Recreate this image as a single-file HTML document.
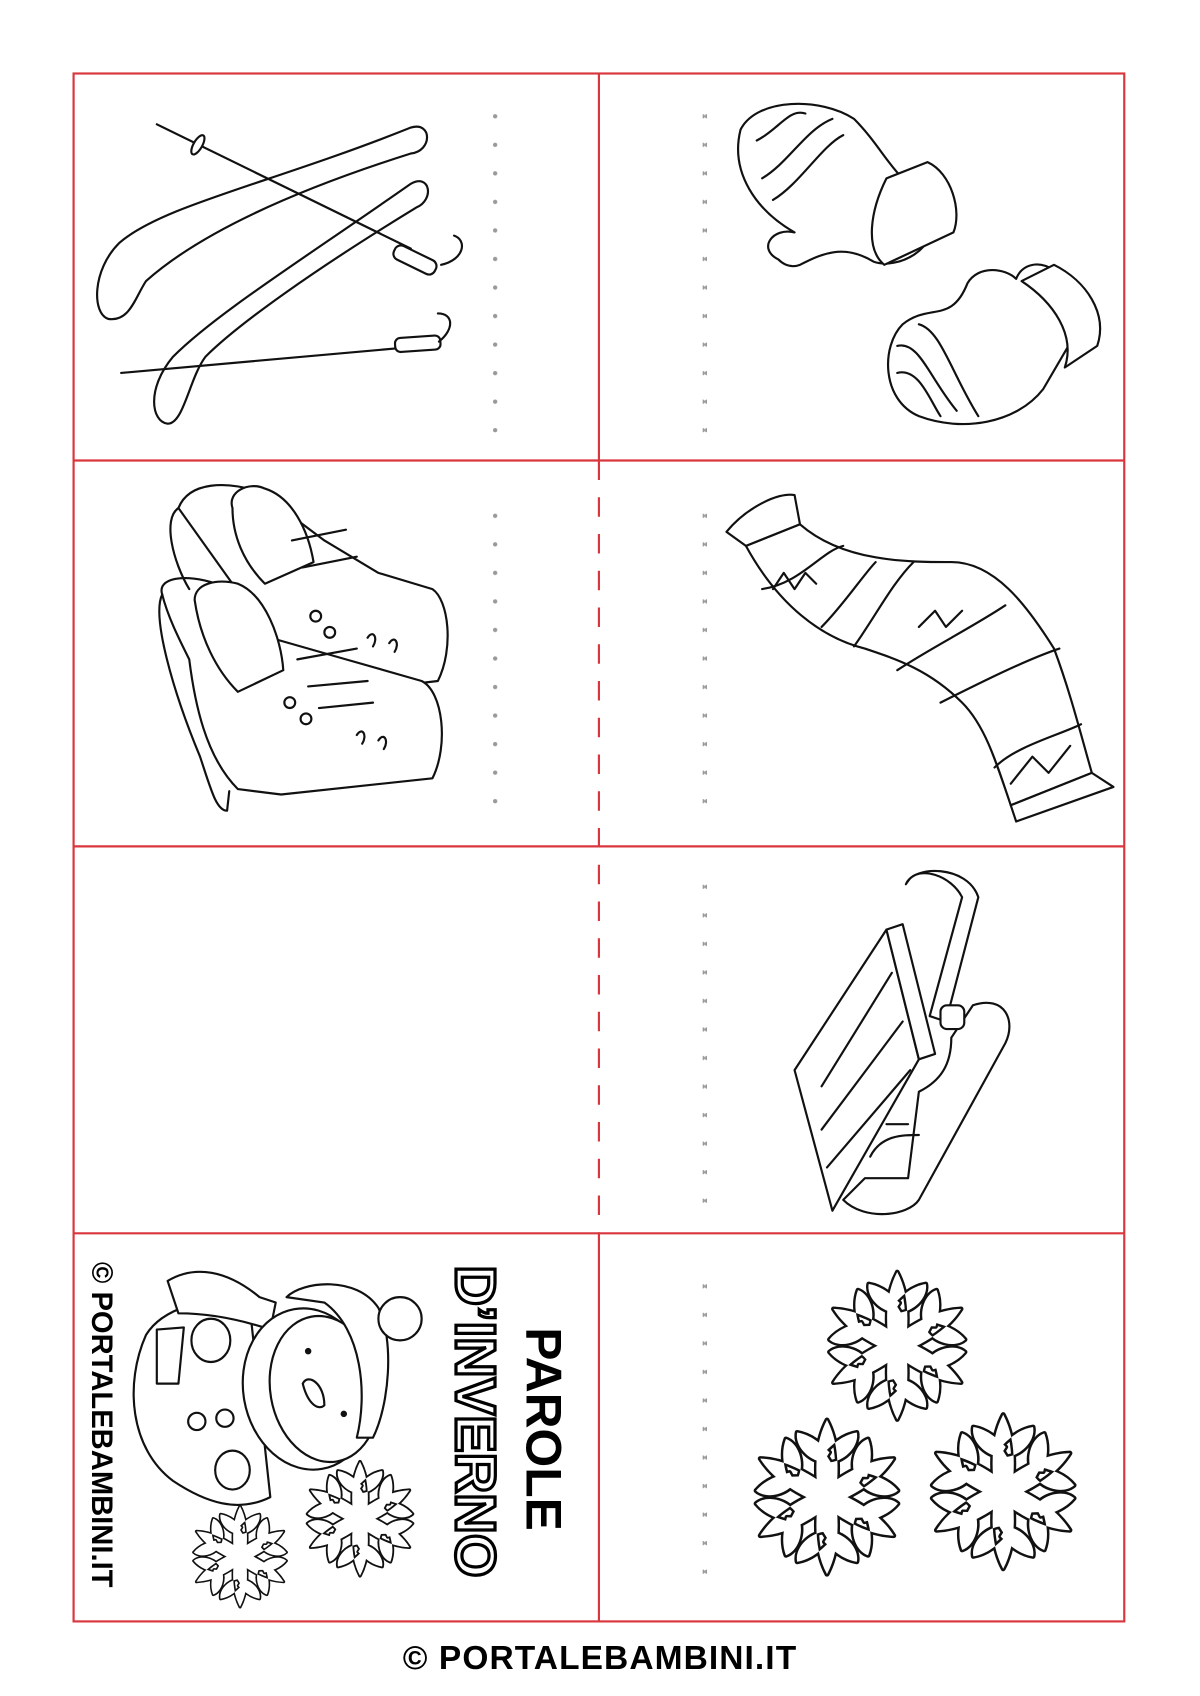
<!DOCTYPE html>
<html><head><meta charset="utf-8"><style>
html,body{margin:0;padding:0;background:#fff}
svg{display:block}
text{font-family:"Liberation Sans","DejaVu Sans",sans-serif;font-weight:bold}
</style></head><body>
<svg width="1200" height="1696" viewBox="0 0 1110 1569" xmlns="http://www.w3.org/2000/svg">
<defs>
<path id="arm" d="M-7,0 C-10,-25 -9,-45 0,-62 C9,-45 10,-25 7,0 Z M-3,-28 C-16,-30 -26,-42 -24,-52 C-12,-50 -4,-42 2,-36 Z M3,-28 C16,-30 26,-42 24,-52 C12,-50 4,-42 -2,-36 Z"/>
<g id="arms"><circle r="14"/><use href="#arm"/><use href="#arm" transform="rotate(60)"/><use href="#arm" transform="rotate(120)"/><use href="#arm" transform="rotate(180)"/><use href="#arm" transform="rotate(240)"/><use href="#arm" transform="rotate(300)"/></g>
<g id="flake"><use href="#arms" fill="#111" stroke="#111" stroke-width="4" stroke-linejoin="round"/><use href="#arms" fill="#fff" stroke="none"/></g>
<pattern id="dots" x="0" y="0" width="4" height="26.4" patternUnits="userSpaceOnUse"><circle cx="2" cy="2" r="2" fill="#999"/></pattern>
</defs>
<rect width="1110" height="1569" fill="#fff"/>
<g stroke="#d9363e" stroke-width="2" fill="none">
<rect x="68" y="68" width="972" height="1432"/>
<line x1="68" y1="426" x2="1040" y2="426"/>
<line x1="68" y1="783" x2="1040" y2="783"/>
<line x1="68" y1="1141" x2="1040" y2="1141"/>
<line x1="554" y1="68" x2="554" y2="426"/>
<line x1="554" y1="1141" x2="554" y2="1500"/>
<line x1="554" y1="426" x2="554" y2="1141" stroke-dasharray="18 16"/>
</g>
<rect x="456" y="100" width="4" height="300" fill="url(#dots)"/>
<rect x="650" y="100" width="4" height="300" fill="url(#dots)"/>
<rect x="456" y="458" width="4" height="300" fill="url(#dots)"/>
<rect x="650" y="458" width="4" height="300" fill="url(#dots)"/>
<rect x="650" y="815" width="4" height="300" fill="url(#dots)"/>
<rect x="650" y="1173" width="4" height="300" fill="url(#dots)"/>

<g fill="#fff" stroke="#111" stroke-width="2" stroke-linejoin="round" stroke-linecap="round">
<path d="M100,295 C85,290 85,250 110,225 C150,190 250,170 380,118 C400,112 400,140 380,142 C260,180 180,220 135,260 C125,275 120,298 100,295Z"/>
<path d="M155,392 C140,390 135,360 160,330 C200,290 280,240 380,170 C398,160 402,185 385,192 C290,250 220,300 190,330 C175,350 170,392 155,392Z"/>
<line x1="145" y1="115" x2="380" y2="230"/>
<ellipse cx="183" cy="134" rx="4" ry="10" transform="rotate(30 183 134)"/>
<rect x="368" y="225" width="42" height="14" rx="6" transform="rotate(26 368 225)"/>
<path d="M408,245 C430,240 432,222 420,218" fill="none"/>
<line x1="112" y1="345" x2="370" y2="322"/>
<rect x="365" y="313" width="42" height="13" rx="5" transform="rotate(-4 365 313)"/>
<path d="M406,316 C420,305 420,290 405,290" fill="none"/>
<path d="M720,240 C700,230 715,210 735,215 C700,195 675,160 685,120 C700,90 760,90 790,110 C810,130 820,150 835,165 L860,200 C870,230 830,250 808,242 C780,225 760,235 740,245 C732,248 725,245 720,240Z"/>
<path d="M820,165 L858,150 C880,160 890,195 882,215 L818,245 C800,230 805,195 820,165Z"/>
<path d="M700,130 C720,120 730,100 745,105 M705,165 C730,150 745,120 770,110 M715,185 C740,170 760,135 780,125" fill="none"/>
<path d="M1000,300 C1010,280 990,260 975,250 C960,240 945,245 940,258 C930,248 905,245 895,262 C880,300 860,280 835,300 C815,320 815,370 850,385 C890,400 940,392 965,360 Z"/>
<path d="M945,260 L975,245 C1005,260 1025,290 1015,320 L985,340 C995,310 975,280 945,260Z"/>
<path d="M830,320 C850,315 860,350 885,380 M830,345 C850,340 860,370 870,385 M850,300 C870,305 880,345 905,385" fill="none"/>
<path d="M165,470 C175,445 210,445 240,455 L300,500 L350,530 L400,545 C415,555 420,600 405,630 L320,640 C260,620 230,580 215,540 Z"/>
<path d="M215,470 C210,455 230,445 245,452 C270,460 285,490 290,520 L245,540 C225,520 215,495 215,470Z"/>
<path d="M150,550 C145,535 170,530 200,540 L250,590 L320,610 L390,630 C410,640 415,690 400,720 L260,735 L220,730 C190,700 180,650 175,610 C165,590 155,570 150,550Z"/>
<path d="M180,555 C180,540 200,535 220,540 C245,550 260,590 262,620 L220,640 C200,620 185,590 180,555Z"/>
<path d="M150,550 C140,570 160,640 185,700 C195,730 200,750 210,750 L212,732" fill="none"/>
<path d="M165,470 C150,480 160,520 175,545" fill="none"/>
<path d="M270,500 L320,490 M280,525 L330,515 M275,610 L330,600 M285,635 L340,630 M295,655 L345,650" fill="none"/>
<circle cx="292" cy="570" r="5" fill="none"/><circle cx="305" cy="585" r="5" fill="none"/><circle cx="268" cy="650" r="5" fill="none"/><circle cx="283" cy="665" r="5" fill="none"/>
<path d="M340,590 c5,-8 10,0 5,8 M360,595 c5,-8 10,0 5,8 M330,680 c5,-8 10,0 5,8 M350,685 c5,-8 10,0 5,8" fill="none"/>
<path d="M690,505 L740,485 C780,520 840,520 880,520 C920,520 950,560 975,600 C990,640 1000,680 1010,715 L935,745 C920,700 910,670 890,650 C860,620 830,610 800,600 C760,590 720,560 690,505Z"/>
<path d="M672,492 L690,505 L740,485 L735,458 C720,455 690,470 672,492Z"/>
<path d="M1010,715 L935,745 L940,760 L1030,728Z"/>
<path d="M705,545 C740,540 760,510 780,505 M760,580 C780,560 800,530 810,520 M790,598 C810,570 825,540 845,520 M830,620 C860,600 900,580 930,560 M870,650 C910,630 950,610 980,600 M920,710 C940,690 980,680 1000,670 M935,725 L955,700 L970,715 L990,690" fill="none"/>
<path d="M715,545 L725,530 L735,545 L745,530 L755,540 M850,580 L865,565 L875,580 L890,565" fill="none"/>
<path d="M735,990 L820,860 L850,980 L770,1120 Z"/>
<path d="M820,860 L835,855 L865,975 L850,980Z"/>
<path d="M760,1005 L825,900 M760,1045 L835,945 M765,1080 L842,990" fill="none"/>
<path d="M850,1010 C870,1000 880,985 880,960 L900,930 C930,920 940,945 930,965 L850,1110 C840,1125 800,1130 780,1110 L800,1090 L840,1090 Z"/>
<path d="M840,815 C850,800 880,810 890,830 L860,940 L875,945 L905,830 C895,800 845,800 838,818Z"/>
<rect x="870" y="930" width="22" height="22" rx="6"/>
<path d="M805,1070 C815,1050 835,1050 850,1050 M820,1040 L840,1040" fill="none"/>
<path d="M135,1235 C115,1280 120,1340 160,1370 C190,1390 220,1400 250,1385 L230,1200 C190,1200 150,1210 135,1235Z"/>
<path d="M155,1185 C180,1170 210,1175 240,1200 L255,1205 L250,1230 C220,1220 190,1215 165,1215Z"/>
<path d="M145,1230 L170,1228 L165,1280 L145,1280Z"/>
<ellipse cx="195" cy="1240" rx="18" ry="20"/>
<ellipse cx="285" cy="1285" rx="60" ry="75" transform="rotate(-10 285 1285)"/>
<ellipse cx="300" cy="1285" rx="50" ry="68" transform="rotate(-10 300 1285)"/>
<path d="M265,1200 C280,1185 330,1180 350,1210 C365,1240 360,1300 345,1330 L330,1330 C340,1290 335,1230 300,1205Z"/>
<circle cx="370" cy="1220" r="20"/>
<circle cx="285" cy="1250" r="2" fill="#111"/><circle cx="318" cy="1308" r="2" fill="#111"/>
<path d="M280,1280 C285,1270 300,1280 300,1300 C295,1305 285,1300 280,1280Z"/>
<circle cx="182" cy="1315" r="8"/><circle cx="208" cy="1312" r="8"/>
<ellipse cx="215" cy="1360" rx="16" ry="18"/>
</g>
<use href="#flake" transform="translate(222,1440) scale(0.75)"/>
<use href="#flake" transform="translate(333,1405) scale(0.85)"/>
<use href="#flake" transform="translate(830,1245) scale(1.1)"/>
<use href="#flake" transform="translate(765,1385) scale(1.15)"/>
<use href="#flake" transform="translate(928,1380) scale(1.15)"/>
<text transform="translate(487,1322) rotate(90)" text-anchor="middle" font-size="46" fill="#000" style="font-weight:900">PAROLE</text>
<text transform="translate(422,1315) rotate(90)" text-anchor="middle" font-size="52" fill="#fff" stroke="#000" stroke-width="3" style="font-weight:900">D’INVERNO</text>
<text transform="translate(85,1318) rotate(90)" text-anchor="middle" font-size="27" fill="#000">© PORTALEBAMBINI.IT</text>
<text x="555" y="1544" text-anchor="middle" font-size="31" fill="#000" letter-spacing="1">© PORTALEBAMBINI.IT</text>
</svg>
</body></html>
